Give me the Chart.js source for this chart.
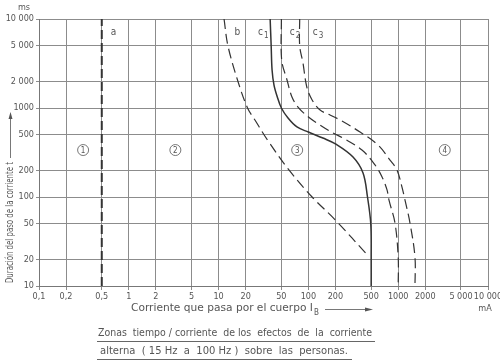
<!DOCTYPE html>
<html>
<head>
<meta charset="utf-8">
<script src="https://cdn.jsdelivr.net/npm/chart.js@4.4.1/dist/chart.umd.min.js"></script>
<style>
  html, body { margin: 0; padding: 0; background: #fff; }
  #chart { display: block; }
</style>
</head>
<body>
<canvas id="chart" width="500" height="362"></canvas>
<script>
// Ejes (corriente en mA, tiempo en ms)
const xTicks = [0.1, 0.2, 0.5, 1, 2, 5, 10, 20, 50, 100, 200, 500, 1000, 2000, 5000, 10000];
const xTickLabels = ["0,1", "0,2", "0,5", "1", "2", "5", "10", "20", "50", "100", "200", "500", "1000", "2000", "5 000", "10 000"];
const yTicks = [10, 20, 50, 100, 200, 500, 1000, 2000, 5000, 10000];
const yTickLabels = ["10", "20", "50", "100", "200", "500", "1000", "2 000", "5 000", "10 000"];

// Curvas
const aCurrent = [0.5, 0.5];
const aTime = [10, 10000];
const bCurrent = [11.5, 12.7, 16.4, 21, 25.4, 35, 61, 110, 200, 460];
const bTime = [10000, 5000, 2000, 1000, 733, 437, 200, 100, 55, 22];
const c1Current = [37.5, 38.5, 39.4, 41.4, 44.7, 50, 59.3, 74.6, 100, 145, 200, 314, 406, 455, 495, 500, 500];
const c1Time = [10000, 5000, 2670, 1810, 1365, 1000, 772, 612, 537, 460, 395, 281, 186, 100, 50, 20, 10];
const c2Current = [50, 50.4, 57.8, 65.6, 76.6, 100, 135, 188, 243, 395, 552, 661, 751, 790, 921, 1000, 1000];
const c2Time = [10000, 3460, 2063, 1329, 1026, 793, 644, 524, 460, 337, 229, 168, 120, 92, 51, 21, 10];
const c3Current = [80, 80, 87, 96, 110, 135, 174, 225, 376, 596, 811, 970, 1102, 1191, 1353, 1538, 1538];
const c3Time = [10000, 5000, 3205, 1722, 1230, 950, 834, 733, 537, 384, 260, 201, 129, 92, 51, 21, 10];

// Zonas y rotulos de curvas
const zoneNames = ["1", "2", "3", "4"];
const zoneCurrent = [0.31, 3.3, 75, 3300];
const zoneTime = [337, 337, 337, 337];
const curveNames = ["a", "b", "c", "c", "c"];
const curveSubs = ["", "", "1", "2", "3"];
const curveLabelCurrent = [0.63, 15, 27.5, 62, 112];
const curveLabelTime = [7000, 7000, 7000, 7000, 7000];

const FONT = "'DejaVu Sans Condensed', 'Liberation Sans Narrow', 'DejaVu Sans', sans-serif";
const TEXT = "#555";
const INK = "#333";

function pts(xs, ys) {
    return xs.map((x, i) => ({ x: x, y: ys[i] }));
}

function lineDs(xs, ys, dash, width) {
    return {
        data: pts(xs, ys),
        showLine: true,
        borderColor: INK,
        borderWidth: width,
        borderDash: dash,
        pointRadius: 0,
        tension: 0.35,
        fill: false,
    };
}

// escribe el texto estirado/comprimido al ancho pedido
function fitText(c, text, x, y, w) {
    const m = c.measureText(text).width;
    c.save();
    c.translate(x, y);
    c.scale(w / m, 1);
    c.textAlign = "left";
    c.fillText(text, 0, 0);
    c.restore();
}

// Rotulos, zonas, titulos de ejes y leyenda inferior
const extras = {
    id: "extras",
    afterDraw(chart) {
        const c = chart.ctx;
        const xs = chart.scales.x, ys = chart.scales.y;
        c.save();
        c.fillStyle = TEXT;
        c.strokeStyle = TEXT;
        c.textBaseline = "middle";

        // rotulos de las curvas
        c.font = "10px " + FONT;
        c.textAlign = "left";
        curveNames.forEach((n, i) => {
            const px = xs.getPixelForValue(curveLabelCurrent[i]);
            const py = ys.getPixelForValue(curveLabelTime[i]);
            c.fillText(n, px, py);
            if (curveSubs[i]) {
                c.font = "8px " + FONT;
                c.fillText(curveSubs[i], px + 6, py + 3);
                c.font = "10px " + FONT;
            }
        });

        // zonas numeradas en circulos
        c.lineWidth = 0.8;
        c.textAlign = "center";
        zoneNames.forEach((n, i) => {
            const px = xs.getPixelForValue(zoneCurrent[i]);
            const py = ys.getPixelForValue(zoneTime[i]);
            c.beginPath();
            c.arc(px, py, 5.5, 0, Math.PI * 2);
            c.stroke();
            c.font = "8px " + FONT;
            c.fillText(n, px, py + 0.5);
        });

        // unidades
        c.font = "9px " + FONT;
        c.fillText("ms", 24, 8);
        c.fillText("mA", 485, 309);

        // titulo eje y
        c.save();
        c.translate(10, 283);
        c.rotate(-Math.PI / 2);
        c.font = "10px " + FONT;
        fitText(c, "Duración del paso de la corriente t", 0, 0, 121);
        c.restore();
        c.lineWidth = 0.8;
        c.beginPath();
        c.moveTo(10.5, 158);
        c.lineTo(10.5, 114);
        c.stroke();
        c.beginPath();
        c.moveTo(10.5, 112);
        c.lineTo(8.5, 119);
        c.lineTo(12.5, 119);
        c.closePath();
        c.fill();

        // titulo eje x
        c.font = "10px " + FONT;
        fitText(c, "Corriente que pasa por el cuerpo I", 131, 308, 182);
        c.font = "8px " + FONT;
        c.textAlign = "left";
        c.fillText("B", 314, 313);
        c.beginPath();
        c.moveTo(325, 309.5);
        c.lineTo(368, 309.5);
        c.stroke();
        c.beginPath();
        c.moveTo(373, 309.5);
        c.lineTo(365, 307.5);
        c.lineTo(365, 311.5);
        c.closePath();
        c.fill();

        // leyenda subrayada
        c.font = "10px " + FONT;
        fitText(c, "Zonas  tiempo / corriente  de los  efectos  de  la  corriente", 98, 333, 274);
        fitText(c, "alterna  ( 15 Hz  a  100 Hz )  sobre  las  personas.", 100, 351, 248);
        c.lineWidth = 0.9;
        c.beginPath();
        c.moveTo(97, 341.5);
        c.lineTo(375, 341.5);
        c.moveTo(97, 359.5);
        c.lineTo(352, 359.5);
        c.stroke();
        c.restore();
    },
};

const ctx = document.getElementById("chart").getContext("2d");
const chart = new Chart(ctx, {
    type: "scatter",
    data: {
        datasets: [
            Object.assign(lineDs(aCurrent, aTime, [9, 4], 2), { tension: 0 }),
            lineDs(bCurrent, bTime, [10, 5], 1.2),
            lineDs(c1Current, c1Time, [], 1.5),
            lineDs(c2Current, c2Time, [10, 5], 1.2),
            lineDs(c3Current, c3Time, [10, 5], 1.2),
        ],
    },
    options: {
        responsive: false,
        animation: false,
        layout: { padding: { top: 19, right: 12, left: 0, bottom: 0 } },
        plugins: {
            legend: { display: false },
            tooltip: { enabled: false },
        },
        scales: {
            x: {
                type: "logarithmic",
                min: 0.1,
                max: 10000,
                afterBuildTicks: (s) => { s.ticks = xTicks.map((v) => ({ value: v })); },
                afterFit: (s) => { s.height = 76; s.paddingLeft = 0; s.paddingRight = 0; },
                ticks: {
                    autoSkip: false,
                    maxRotation: 0,
                    padding: 1,
                    color: TEXT,
                    font: { family: FONT, size: 9 },
                    callback: (v, i) => xTickLabels[i],
                },
                grid: { color: "#8c8c8c", lineWidth: 1, tickLength: 4 },
                border: { color: "#777" },
            },
            y: {
                type: "logarithmic",
                min: 10,
                max: 10000,
                afterBuildTicks: (s) => { s.ticks = yTicks.map((v) => ({ value: v })); },
                afterFit: (s) => { s.width = 39; s.paddingTop = 0; s.paddingBottom = 0; },
                ticks: {
                    autoSkip: false,
                    padding: 2,
                    color: TEXT,
                    font: { family: FONT, size: 9 },
                    callback: (v, i) => yTickLabels[i],
                },
                grid: { color: "#8c8c8c", lineWidth: 1, tickLength: 3 },
                border: { color: "#777" },
            },
        },
    },
    plugins: [extras],
});
</script>
</body>
</html>
